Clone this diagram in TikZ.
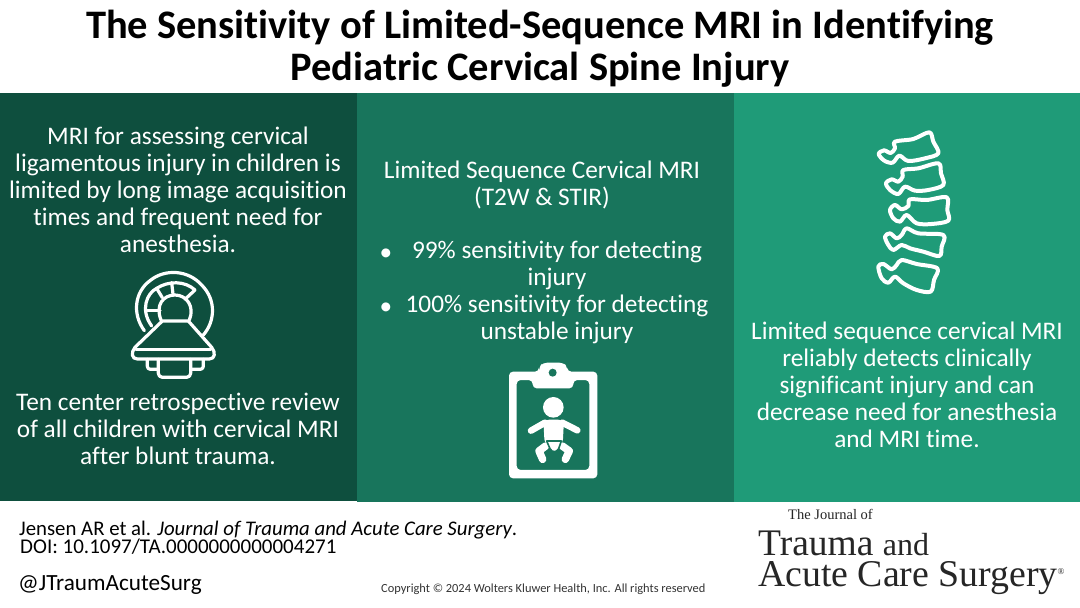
\documentclass[tikz,border=0pt]{standalone}
\usepackage{fontspec}
\setmainfont[Ligatures=NoCommon]{Carlito}
\newfontfamily\logofont{Liberation Serif}
\definecolor{panelA}{RGB}{14,79,62}
\definecolor{panelB}{RGB}{24,117,92}
\definecolor{panelC}{RGB}{31,155,120}
\newcommand{\fs}[2]{\fontsize{#1}{#2}\selectfont}
\tikzset{
 body/.style={text=white,align=center,inner sep=0pt,font=\fs{25.3}{27}},
 iconline/.style={draw=white,line width=3.2pt,line join=round,line cap=round},
 spinebone/.style={draw=white,line width=4pt,line join=round,smooth cycle,tension=0.55},
 babylimb/.style={draw=white,line width=6.5pt,line join=round,line cap=round},
 foot/.style={text=black,anchor=west,inner sep=0pt,align=left},
 logo/.style={text=black!85,anchor=west,inner sep=0pt},
}
\begin{document}
\begin{tikzpicture}[x=1pt,y=-1pt]
\useasboundingbox (0,0) rectangle (1080,608);
\fill[white] (0,0) rectangle (1080,608);
% panels
\fill[panelC] (734,93) rectangle (1080,502);
\fill[panelB] (357,93) rectangle (734,502);
\fill[panelA] (0,93) rectangle (357,501);
\node[font=\fs{40.5}{42}\bfseries,align=center,inner sep=0pt] (title) at (540,49) {The Sensitivity of Limited-Sequence MRI in Identifying\\Pediatric Cervical Spine Injury};
\node[body] (leftA) at (178,190) {MRI for assessing cervical\\ligamentous injury in children is\\limited by long image acquisition\\times and frequent need for\\anesthesia.};
\node[body] (leftB) at (178,429) {Ten center retrospective review\\of all children with cervical MRI\\after blunt trauma.};
\node[body] (midA) at (542,185) {Limited Sequence Cervical MRI\\(T2W \& STIR)};
\node[body,anchor=base] (bulA) at (386,260) {•};
\node[body,anchor=base] (bulB) at (386,314) {•};
\node[body] (midB) at (557,265) {99\% sensitivity for detecting\\injury};
\node[body] (midC) at (557,319) {100\% sensitivity for detecting\\unstable injury};
\node[body] (right) at (907,385) {Limited sequence cervical MRI\\reliably detects clinically\\significant injury and can\\decrease need for anesthesia\\and MRI time.};
% footer
\node[foot,font=\fs{20.8}{21}] (cite) at (19,530) {Jensen AR et al. \textit{Journal of Trauma and Acute Care Surgery}.};
\node[foot,font=\fs{21}{21}] (doi) at (20,547) {DOI: 10.1097/TA.0000000000004271};
\node[foot,font=\fs{23.2}{24}] (handle) at (18,585) {@JTraumAcuteSurg};
\node[foot,font=\fs{12.4}{14},text=black!80] (copy) at (381,589) {Copyright © 2024  Wolters Kluwer Health, Inc. All rights reserved};
\node[logo,font=\logofont\fs{14.5}{16}] (logoA) at (788,514) {The Journal of};
\node[logo,font=\logofont\fs{37.5}{40}] (logoB) at (758,543) {Trauma {\fs{32}{36}and}};
\node[logo,font=\logofont\fs{37.8}{40}] (logoC) at (758,578) {Acute Care Surgery\raisebox{12pt}{\fs{9}{9}®}};
% MRI icon
\begin{scope}[shift={(100,260)},x=0.3333pt,y=-0.3333pt]
 \draw[iconline] (133,212) .. controls (95,160) and (105,95) .. (150,62) .. controls (195,25) and (265,30) .. (305,75) .. controls (350,120) and (345,185) .. (310,225);
 \draw[iconline] (155,198) .. controls (120,150) and (140,100) .. (170,85) .. controls (205,62) and (255,62) .. (285,90);
 \draw[iconline] (285,90) -- (255,118);
 \draw[iconline] (170,85) -- (187,113);
 \draw[iconline] (215,68) -- (219,102);
 \draw[iconline] (138,152) -- (180,152);
 \draw[iconline] (183,180) .. controls (165,135) and (190,105) .. (225,105) .. controls (260,105) and (285,140) .. (268,180);
 \draw[iconline] (187,183) -- (265,183) -- (335,262) .. controls (348,278) and (345,297) .. (328,297) -- (112,297) .. controls (95,297) and (92,278) .. (105,262) -- cycle;
 \draw[iconline] (108,269) -- (332,269);
 \draw[iconline,rounded corners=3pt] (142,298) -- (142,328) -- (175,328);
 \draw[iconline,rounded corners=3pt] (310,298) -- (310,328) -- (272,328);
 \draw[iconline,rounded corners=4pt] (175,298) -- (175,352) -- (272,352) -- (272,298);
\end{scope}
% clipboard icon
\begin{scope}[shift={(490,350)},x=0.3333pt,y=-0.3333pt]
 \fill[white,even odd rule,rounded corners=4pt] (57,65) -- (147,65) -- (147,50) -- (160,38) -- (220,38) -- (232,50) -- (232,65) -- (322,65) -- (322,385) -- (57,385) -- cycle
   (80,90) -- (128,90) -- (128,115) -- (250,115) -- (250,90) -- (298,90) -- (298,360) -- (80,360) -- cycle;
 \fill[panelB] (188,68) circle[radius=12];
 \fill[white] (190,172) circle[radius=31];
 \draw[babylimb] (165,218) -- (123,242);
 \draw[babylimb] (217,218) -- (262,241);
 \fill[white,rounded corners=6pt] (160,209) -- (222,209) -- (218,285) -- (164,285) -- cycle;
 \draw[babylimb,line width=7.5pt] (167,288) -- (147,303) -- (158,328);
 \draw[babylimb,line width=7.5pt] (217,288) -- (238,303) -- (226,328);
 \draw[panelB,line width=1.6pt,fill=white,line join=round] (170,273) -- (214,273) -- (206,296) .. controls (200,308) and (186,308) .. (180,296) -- cycle;
 \draw[panelB,line width=1.8pt] (178,312) .. controls (186,308) and (198,308) .. (206,312);
\end{scope}
% spine icon
\begin{scope}[shift={(860,120)},x=0.3333pt,y=-0.3333pt]
 \draw[spinebone] plot coordinates {(105,65) (160,57) (208,37) (220,65) (235,100) (195,115) (145,123) (118,107) (98,128) (73,122) (56,102) (72,91) (92,99) (105,85)};
 \draw[spinebone] plot coordinates {(130,150) (175,145) (235,130) (243,160) (250,195) (205,210) (165,212) (135,200) (115,222) (90,210) (78,190) (95,178) (115,185) (128,170)};
 \draw[spinebone] plot coordinates {(150,238) (200,240) (260,232) (262,270) (265,302) (215,312) (170,310) (140,285) (120,305) (100,295) (90,270) (105,255) (125,268) (145,258)};
 \draw[spinebone] plot coordinates {(140,325) (175,340) (250,345) (245,380) (238,408) (190,395) (150,385) (125,375) (100,390) (85,375) (75,350) (90,340) (110,355) (125,345)};
 \draw[spinebone] plot coordinates {(125,420) (170,432) (232,445) (222,480) (212,515) (170,510) (130,490) (105,470) (85,488) (65,475) (55,440) (70,432) (95,448) (110,435)};
\end{scope}
\end{tikzpicture}
\end{document}
